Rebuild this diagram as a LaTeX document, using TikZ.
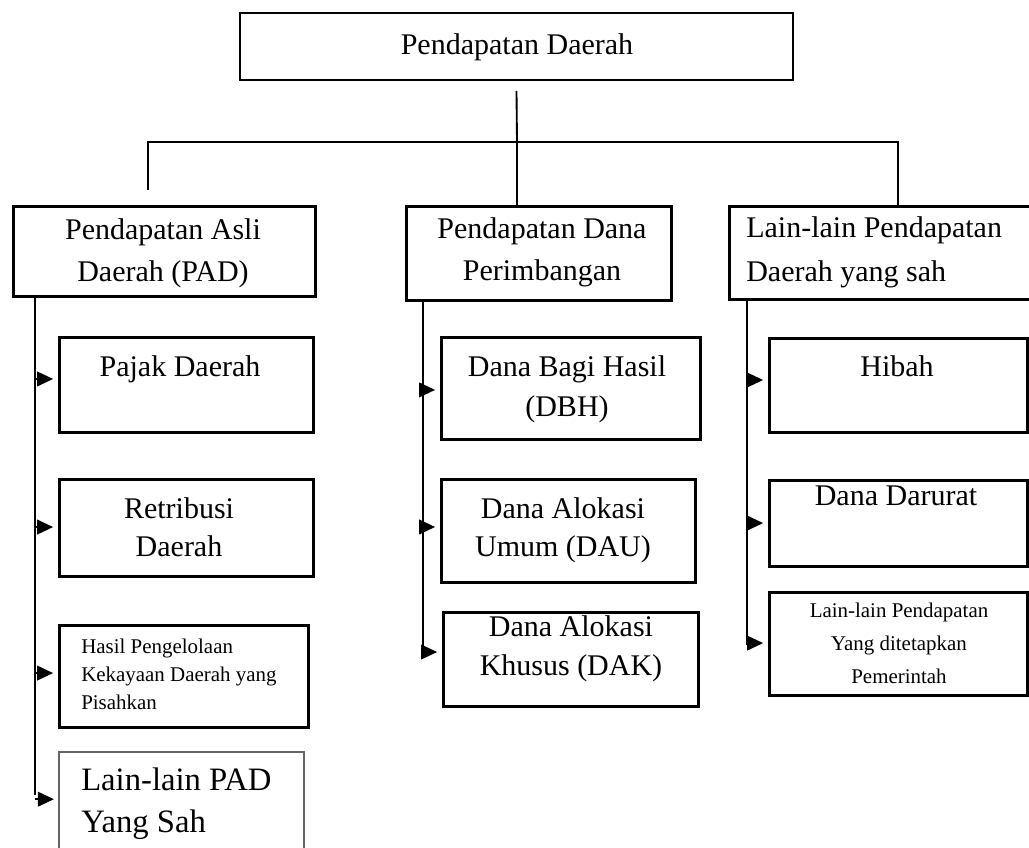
\documentclass[tikz,border=0pt]{standalone}
\usepackage{fontspec}
\setmainfont{Liberation Serif}
\usetikzlibrary{arrows.meta,fit}
\begin{document}
\begin{tikzpicture}[x=0.75pt,y=-0.75pt,
  box/.style={draw,line width=2.25pt,inner sep=0pt,rectangle},
  topbox/.style={draw,line width=1.5pt,inner sep=0pt,rectangle},
  thinbox/.style={draw=black!60,line width=1.1pt,inner sep=0pt,rectangle},
  conn/.style={line width=1.4pt},
  trunk/.style={line width=2.2pt},
  arr/.style={line width=1.4pt,-{Triangle[length=12pt,width=11pt]},shorten >=3.3pt},
  big/.style={font=\fontsize{22.5}{30}\selectfont,inner sep=0pt,anchor=base},
  small/.style={font=\fontsize{15.7}{21}\selectfont,inner sep=0pt,anchor=base},
  huge/.style={font=\fontsize{24.5}{31.5}\selectfont,inner sep=0pt,anchor=base},
]
\useasboundingbox (0,0) rectangle (1029,848);
\clip (0,0) rectangle (1029,848);

% top
\node[topbox,fit={(240,13) (793,80)}] (pd) {};
\node[big] (pdt) at (517,55) {Pendapatan Daerah};

% level 2 boxes (multi-line text: anchor base = last line)
\node[box,fit={(13,207) (315,297)}] (pad) {};
\node[big,align=center,font=\fontsize{22.5}{31.5}\selectfont] (padt) at (163,282) {Pendapatan Asli\\Daerah (PAD)};
\node[box,fit={(406,207) (671,301)}] (dana) {};
\node[big,align=center,font=\fontsize{22.5}{31.5}\selectfont] (danat) at (542,281) {Pendapatan Dana\\Perimbangan};
\node[box,fit={(729,207) (1040,300)}] (lain) {};
\node[big,align=left,anchor=base west,font=\fontsize{22.5}{33}\selectfont] (laint) at (746,282) {Lain-lain Pendapatan\\Daerah yang sah};

% connectors from top
\coordinate (hub) at (517,142);
\coordinate (lhub) at (148,142);
\coordinate (ldrop) at (148,190);
\coordinate (rhub) at (898,142);
\draw[conn] ([yshift=-7.5pt]pd.south) -- (hub);
\draw[conn] (ldrop) -- (lhub) -- (rhub) -- (rhub |- lain.north);
\draw[conn] (hub) -- (hub |- dana.north);

% left column
\node[box,fit={(59,338) (313,433)}] (pajak) {};
\node[big] (pajakt) at (180,377) {Pajak Daerah};
\node[box,fit={(59,480) (313,577)}] (retri) {};
\node[big,align=center,font=\fontsize{22.5}{29}\selectfont] (retrit) at (179,557) {Retribusi\\Daerah};
\node[box,fit={(59,625) (308,727)}] (hasil) {};
\node[small,align=left,anchor=base west,font=\fontsize{15.7}{21}\selectfont] (hasilt) at (81,709) {Hasil Pengelolaan\\Kekayaan Daerah yang\\Pisahkan};
\node[thinbox,fit={(59,752) (304,880)}] (lpad) {};
\node[huge,align=left,anchor=base west] (lpadt) at (81,832) {Lain-lain PAD\\Yang Sah};

\coordinate (padend) at (35,795);
\draw[conn] (pad.south -| padend) -- (padend);
\coordinate (pajakA) at ([yshift=4.9pt]pajak.west);
\coordinate (retriA) at ([yshift=1.1pt]retri.west);
\coordinate (hasilA) at ([yshift=2.2pt]hasil.west);
\coordinate (lpadA) at ([yshift=12.6pt]lpad.west);
\draw[arr] (padend |- pajakA) -- (pajakA);
\draw[arr] (padend |- retriA) -- (retriA);
\draw[arr] (padend |- hasilA) -- (hasilA);
\draw[arr] (padend |- lpadA) -- (lpadA);

% middle column
\node[box,fit={(441,338) (700,440)}] (dbh) {};
\node[big,align=center,font=\fontsize{22.5}{30}\selectfont] (dbht) at (567,417) {Dana Bagi Hasil\\(DBH)};
\node[box,fit={(441,480) (695,583)}] (dau) {};
\node[big,align=center,font=\fontsize{22.5}{28.5}\selectfont] (daut) at (563,557) {Dana Alokasi\\Umum (DAU)};
\node[box,fit={(443,613) (698,706)}] (dak) {};
\node[big,align=center,font=\fontsize{22.5}{28.5}\selectfont] (dakt) at (571,675) {Dana Alokasi\\Khusus (DAK)};

\coordinate (midend) at (423,655);
\draw[trunk] (dana.south -| midend) -- (midend);
\coordinate (dbhA) at ([yshift=-0.7pt]dbh.west);
\coordinate (dauA) at ([yshift=3.4pt]dau.west);
\coordinate (dakA) at ([yshift=5.6pt]dak.west);
\draw[arr] (midend |- dbhA) -- (dbhA);
\draw[arr] (midend |- dauA) -- (dauA);
\draw[arr] (midend |- dakA) -- (dakA);

% right column
\node[box,fit={(769,339) (1027,433)}] (hibah) {};
\node[big] (hibaht) at (897,377) {Hibah};
\node[box,fit={(769,481) (1027,567)}] (darurat) {};
\node[big] (darurat t) at (896,506) {Dana Darurat};
\node[box,fit={(769,593) (1027,695)}] (lpem) {};
\node[small,align=center,font=\fontsize{15.7}{24.75}\selectfont] (lpemt) at (899,683) {Lain-lain Pendapatan\\Yang ditetapkan\\Pemerintah};

\coordinate (rend) at (747,645);
\draw[trunk] (lain.south -| rend) -- (rend);
\coordinate (hibahA) at ([yshift=4.5pt]hibah.west);
\coordinate (darA) at ([yshift=0.7pt]darurat.west);
\coordinate (lpemA) at ([yshift=0.7pt]lpem.west);
\draw[arr] (rend |- hibahA) -- (hibahA);
\draw[arr] (rend |- darA) -- (darA);
\draw[arr] (rend |- lpemA) -- (lpemA);
\end{tikzpicture}
\end{document}
